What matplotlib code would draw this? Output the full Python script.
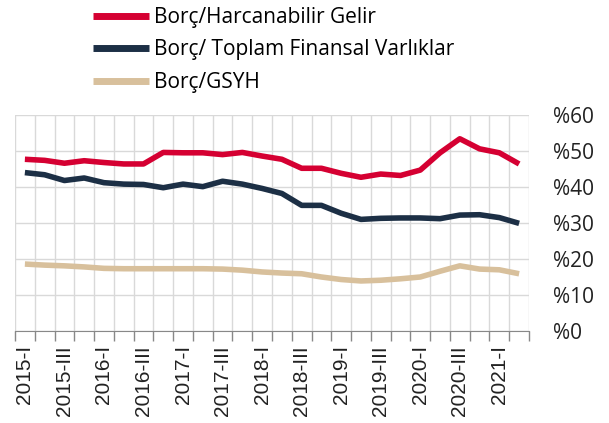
import matplotlib
matplotlib.use("Agg")
import matplotlib.pyplot as plt
import numpy as np

# veriler (ceyreklik, 2015-I .. 2021-II)
quarters = [f"{y}-{q}" for y in range(2015, 2022) for q in ["I", "II", "III", "IV"]][:26]

borc_gelir = [47.7, 47.4, 46.6, 47.3, 46.8, 46.4, 46.4, 49.6, 49.5, 49.5, 49.0, 49.6, 48.6,
              47.7, 45.2, 45.2, 43.8, 42.7, 43.6, 43.2, 44.7, 49.5, 53.4, 50.6, 49.5, 46.4]
borc_varlik = [44.0, 43.4, 41.8, 42.5, 41.2, 40.8, 40.7, 39.8, 40.8, 40.1, 41.6, 40.8, 39.6,
               38.2, 34.9, 34.9, 32.7, 31.0, 31.3, 31.4, 31.4, 31.2, 32.2, 32.3, 31.5, 29.9]
borc_gsyh = [18.6, 18.3, 18.1, 17.8, 17.4, 17.3, 17.3, 17.3, 17.3, 17.3, 17.2, 16.9, 16.4,
             16.1, 15.9, 15.0, 14.3, 13.9, 14.1, 14.5, 15.0, 16.6, 18.1, 17.2, 17.0, 15.9]

labels = ["Borç/Harcanabilir Gelir", "Borç/ Toplam Finansal Varlıklar", "Borç/GSYH"]
colors = ["#D50032", "#1C2F45", "#D8C09C"]

x = np.arange(len(quarters))

fig = plt.figure(figsize=(6.09, 4.23), dpi=100)
ax = fig.add_axes([15 / 609, 1 - 331 / 423, 514 / 609, 216 / 423])

for vals, lab, col in zip([borc_gelir, borc_varlik, borc_gsyh], labels, colors):
    ax.plot(x, vals, color=col, lw=4, label=lab, solid_capstyle="butt")

ax.set_xlim(-0.5, len(quarters) - 0.5)
ax.set_ylim(0, 60)

# y ekseni sagda
ax.yaxis.tick_right()
ax.set_yticks(range(0, 61, 10))
ax.set_yticklabels([f"%{v}" for v in range(0, 61, 10)], fontsize=15, family="Open Sans",
                   color="#222222")
ax.tick_params(axis="y", length=0, pad=17)
ax.grid(axis="y", color="#d9d9d9", lw=1)

# x ekseni: etiketler ceyrek ortasinda, cizgiler sinirlarda
ax.set_xticks(x[::2])
ax.set_xticklabels(quarters[::2], rotation=90, fontsize=15, family="Liberation Sans",
                   color="#222222")
ax.tick_params(axis="x", which="major", length=0, pad=10)
ax.set_xticks(np.arange(-0.5, len(quarters)), minor=True)
ax.tick_params(axis="x", which="minor", length=7, color="#888888", width=1)
ax.grid(axis="x", which="minor", color="#d9d9d9", lw=1)

for s in ["top", "left", "right"]:
    ax.spines[s].set_visible(False)
ax.spines["bottom"].set_color("#888888")
ax.set_axisbelow(True)

leg = fig.legend(loc="upper left", bbox_to_anchor=(74 / 609, 1.028), frameon=False,
                 prop={"family": "Open Sans", "size": 15}, handlelength=2.7,
                 handletextpad=0.25, labelspacing=0.55)
for h in leg.get_lines():
    h.set_linewidth(5)

fig.savefig("out.png", dpi=100)
